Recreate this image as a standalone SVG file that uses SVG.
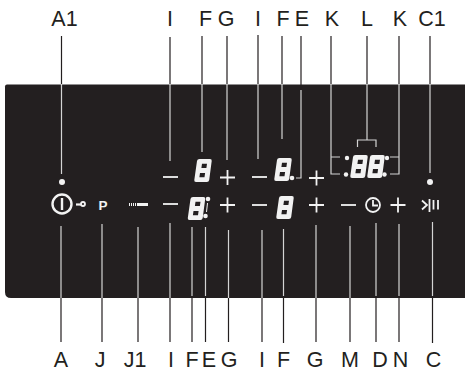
<svg xmlns="http://www.w3.org/2000/svg" width="465" height="372" viewBox="0 0 465 372">
<style>
.lbl{font-family:"Liberation Sans",Arial,sans-serif;font-size:21.500px;fill:#231f20;text-anchor:middle}
.dk{stroke:#231f20;stroke-width:1.2;fill:none}
.lt{stroke:#d4d4d4;stroke-width:1.2;fill:none}
.sym{stroke:#f2f2f2;stroke-width:1.8;fill:none}
.dot{fill:#f2f2f2}
</style>
<defs>
<path id="d8" fill="#f2f2f2" fill-rule="evenodd" d="M5.500 0H16Q18 0 17.700 2L15.200 21Q14.900 23 12.900 23H2Q0 23 0.300 21L3 2Q3.300 0 5.500 0ZM8 4.800L7.400 8.900H12.400L13 4.800ZM6 14.100L5.400 18.200H10.500L11.100 14.100Z"/>
<g id="plus"><path class="sym" d="M-7.500 0H7.500M0-7.500V7.500"/></g>
<path id="minus" class="sym" d="M-7.500 0H7.500"/>
</defs>
<rect id="bg" width="465" height="372" fill="#fff"/>
<path id="panel" d="M7 84.500H465V298H11Q5 298 5 292V86.500Q5 84.500 7 84.500Z" fill="#231f20"/>
<g id="connectors">
<path class="dk" d="M61.500 36V84M170 37V84M202 36V84M227 36V84M258 35V84M282 36V84M301 36V90M331 36V84M367 36V84M399 36V84M430 36V84"/>
<path class="lt" d="M61.500 84V174M170 84V161M202 84V152M227 84V160M258 84V159M282 84V139M301 90V178H296M331 84V174H340M331 157H340M367 84V140M357.500 147V140H376V147M399 84V174H390M399 157H390M430 84V173"/>
<path class="dk" d="M61 298V342M102 298V342M138 298V342M170 298V342M192 296V342M205.500 296V342M228.500 298V342M262 298V342M283.500 296V343M316 298V342M350 298V342M376 296V342M399 296V342M432.500 296V343"/>
<path class="lt" d="M61 226V298M102 224V298M138 227V298M170 223V298M192 227V296M205.500 227V296M228.500 230V298M262 230V298M283.500 229V296M316 225V298M350 226V298M376 223V296M399 224V296M432.500 222V296"/>
</g>
<g id="node-power"><circle class="sym" style="stroke-width:2.400" cx="62" cy="204" r="9.500"/><path class="sym" style="stroke-width:2.400" d="M62 198V210"/><circle cx="62" cy="182" r="3" class="dot"/></g>
<g id="node-key"><path class="sym" style="stroke-width:2.200" d="M76 204.500H81"/><circle class="sym" cx="83" cy="204" r="2"/></g>
<g id="node-p"><text x="103" y="210" font-family="Liberation Sans,Arial,sans-serif" font-size="13.500" font-weight="bold" fill="#f2f2f2" text-anchor="middle">P</text></g>
<g id="node-slider"><path stroke="#f2f2f2" stroke-width="3" stroke-dasharray="1 1" d="M129 204.500H138"/><path stroke="#f2f2f2" stroke-width="3" d="M138 204.500H148"/></g>
<g id="node-zone1"><use href="#minus" x="170.500" y="177"/><use href="#d8" x="194" y="159"/><use href="#plus" x="227.500" y="177.500"/></g>
<g id="node-zone2"><use href="#minus" x="170.500" y="204"/><use href="#d8" x="187.500" y="197"/><circle cx="208" cy="199" r="2.300" class="dot"/><circle cx="205.500" cy="216" r="2.300" class="dot"/><path class="sym" style="stroke-width:1" d="M207.500 203L206.500 212"/><use href="#plus" x="227.500" y="205"/></g>
<g id="node-zone3"><use href="#minus" x="259.500" y="177"/><use href="#d8" x="274" y="158"/><circle cx="292" cy="178" r="2.300" class="dot"/><use href="#plus" x="316.500" y="178"/></g>
<g id="node-zone4"><use href="#minus" x="259.500" y="205"/><use href="#d8" x="276" y="196"/><use href="#plus" x="316.500" y="205"/></g>
<g id="node-timer"><use href="#d8" x="350" y="155"/><use href="#d8" x="367" y="155"/><circle cx="347" cy="158" r="2.200" class="dot"/><circle cx="346" cy="174.500" r="2.200" class="dot"/><circle cx="387" cy="158" r="2.200" class="dot"/><circle cx="384.500" cy="174.500" r="2.200" class="dot"/></g>
<g id="node-clock"><use href="#minus" x="348.500" y="205"/><circle class="sym" cx="373" cy="205" r="7"/><path class="sym" d="M373 200V205.500H378"/><use href="#plus" x="398" y="205"/></g>
<g id="node-skip"><circle cx="430" cy="182" r="3" class="dot"/><path class="sym" d="M422 200.500L427 205L422 209.500"/><path class="sym" d="M429.500 199V212"/><path class="sym" d="M433.500 200V209.500M438 200V209.500"/></g>
<g id="labels">
<text class="lbl" x="64.500" y="25.500">A1</text><text class="lbl" x="170" y="25.500">I</text><text class="lbl" x="205.500" y="25.500">F</text><text class="lbl" x="226" y="25.500">G</text><text class="lbl" x="258" y="25.500">I</text><text class="lbl" x="283" y="25.500">F</text><text class="lbl" x="302" y="25.500">E</text><text class="lbl" x="332" y="25.500">K</text><text class="lbl" x="367" y="25.500">L</text><text class="lbl" x="400" y="25.500">K</text><text class="lbl" x="432" y="25.500">C1</text>
<text class="lbl" x="61" y="367.300">A</text><text class="lbl" x="100" y="367.300">J</text><text class="lbl" x="135" y="367.300">J1</text><text class="lbl" x="171" y="367.300">I</text><text class="lbl" x="192" y="367.300">F</text><text class="lbl" x="209" y="367.300">E</text><text class="lbl" x="229" y="367.300">G</text><text class="lbl" x="262" y="367.300">I</text><text class="lbl" x="283.500" y="367.300">F</text><text class="lbl" x="315" y="367.300">G</text><text class="lbl" x="350" y="367.300">M</text><text class="lbl" x="380" y="367.300">D</text><text class="lbl" x="400.500" y="367.300">N</text><text class="lbl" x="433.500" y="367.300">C</text>
</g>
</svg>
